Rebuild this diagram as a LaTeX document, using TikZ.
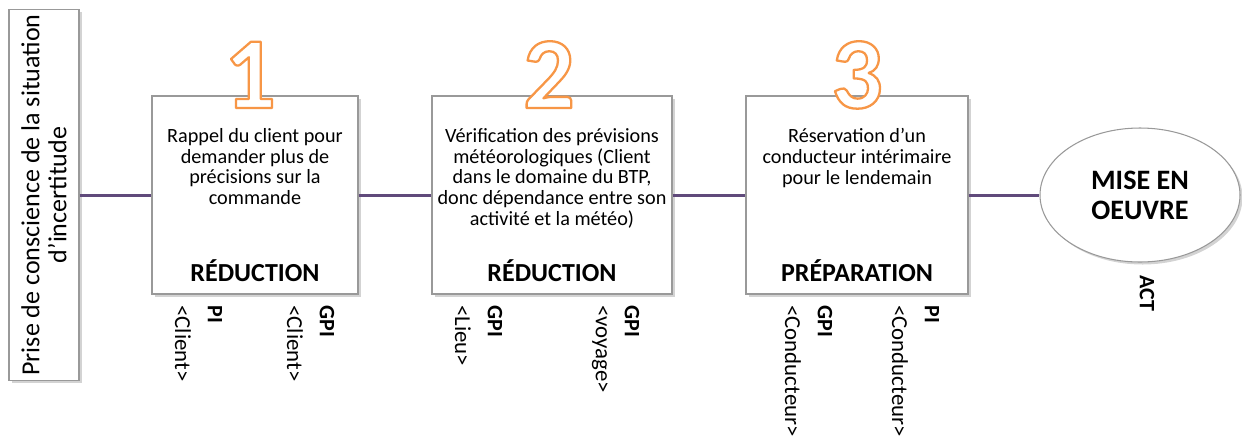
\documentclass[tikz,border=0pt]{standalone}
\usepackage{fontspec}
\setmainfont{Carlito}
\usetikzlibrary{shadows,shapes.geometric}
\definecolor{lienviolet}{RGB}{96,74,123}
\definecolor{chiffreorange}{RGB}{247,150,70}
\newcommand{\chiffre}[1]{\color{white}\special{pdf:literal direct q 2 Tr 1.3 w 1 j 0.969 0.588 0.275 RG}#1\special{pdf:literal direct Q}}
\begin{document}
\begin{tikzpicture}[
  cadre/.style={draw=gray!80,fill=white,line width=0.6pt,
    drop shadow={opacity=0.35,shadow xshift=0.05cm,shadow yshift=-0.05cm}},
  etape/.style={cadre,minimum height=3.96cm},
  lien/.style={draw=lienviolet,line width=1.7pt},
  texte/.style={anchor=north,align=center,inner sep=0pt,font=\fontsize{11.5}{11.8}\selectfont},
  titre/.style={anchor=base,font=\bfseries\fontsize{14.8}{16}\selectfont},
  numero/.style={anchor=base,inner sep=0pt,font=\bfseries\fontsize{58}{58}\selectfont},
  objet/.style={rotate=-90,anchor=west,inner sep=0pt,font=\fontsize{13}{14}\selectfont},
  info/.style={objet,font=\bfseries\fontsize{12.5}{14}\selectfont}
]
\useasboundingbox (0,0) rectangle (24.84,-8.82);

% situation de depart
\node[cadre,minimum width=1.40cm,minimum height=7.42cm] (depart) at (0.88,-3.9) {};
\node[rotate=90,align=center,inner sep=0pt,font=\fontsize{14.8}{15.4}\selectfont] (prise) at (depart.center)
  {Prise de conscience de la situation\\d’incertitude};

% etape 1
\node[etape,minimum width=4.12cm] (etape1) at (5.10,-3.9) {};
\node[numero] (num1) at (5.0,-2.16) {\chiffre{1}};
\node[texte] (txt1) at (5.10,-2.56) {Rappel du client pour\\demander plus de\\précisions sur la\\commande};
\node[titre] (red1) at (5.10,-5.62) {RÉDUCTION};
\node[objet] (obj1a) at (3.66,-6.1) {<Client>};
\node[info] (inf1a) at (4.30,-6.1) {PI};
\node[objet] (obj1b) at (5.90,-6.1) {<Client>};
\node[info] (inf1b) at (6.54,-6.1) {GPI};

% etape 2
\node[etape,minimum width=4.80cm] (etape2) at (11.04,-3.9) {};
\node[numero] (num2) at (10.98,-2.16) {\chiffre{2}};
\node[texte] (txt2) at (11.04,-2.56) {Vérification des prévisions\\météorologiques (Client\\dans le domaine du BTP,\\donc dépendance entre son\\activité et la météo)};
\node[titre] (red2) at (11.04,-5.62) {RÉDUCTION};
\node[objet] (obj2a) at (9.26,-6.1) {<Lieu>};
\node[info] (inf2a) at (9.90,-6.1) {GPI};
\node[objet] (obj2b) at (12.0,-6.1) {<voyage>};
\node[info] (inf2b) at (12.64,-6.1) {GPI};

% etape 3
\node[etape,minimum width=4.44cm] (etape3) at (17.14,-3.9) {};
\node[numero] (num3) at (17.14,-2.16) {\chiffre{3}};
\node[texte] (txt3) at (17.14,-2.56) {Réservation d’un\\conducteur intérimaire\\pour le lendemain};
\node[titre] (prep3) at (17.14,-5.62) {PRÉPARATION};
\node[objet] (obj3a) at (15.86,-6.1) {<Conducteur>};
\node[info] (inf3a) at (16.5,-6.1) {GPI};
\node[objet] (obj3b) at (18.0,-6.1) {<Conducteur>};
\node[info] (inf3b) at (18.64,-6.1) {PI};

% mise en oeuvre
\node[cadre,ellipse,minimum width=4.0cm,minimum height=2.68cm,align=center,
  font=\bfseries\fontsize{16}{17}\selectfont] (fin) at (22.8,-3.9) {MISE EN\\OEUVRE};
\node[info] (act) at (22.94,-5.5) {ACT};

% liens
\draw[lien] (depart.east) -- (etape1.west);
\draw[lien] (etape1.east) -- (etape2.west);
\draw[lien] (etape2.east) -- (etape3.west);
\draw[lien] (etape3.east) -- (fin.west);
\end{tikzpicture}
\end{document}
